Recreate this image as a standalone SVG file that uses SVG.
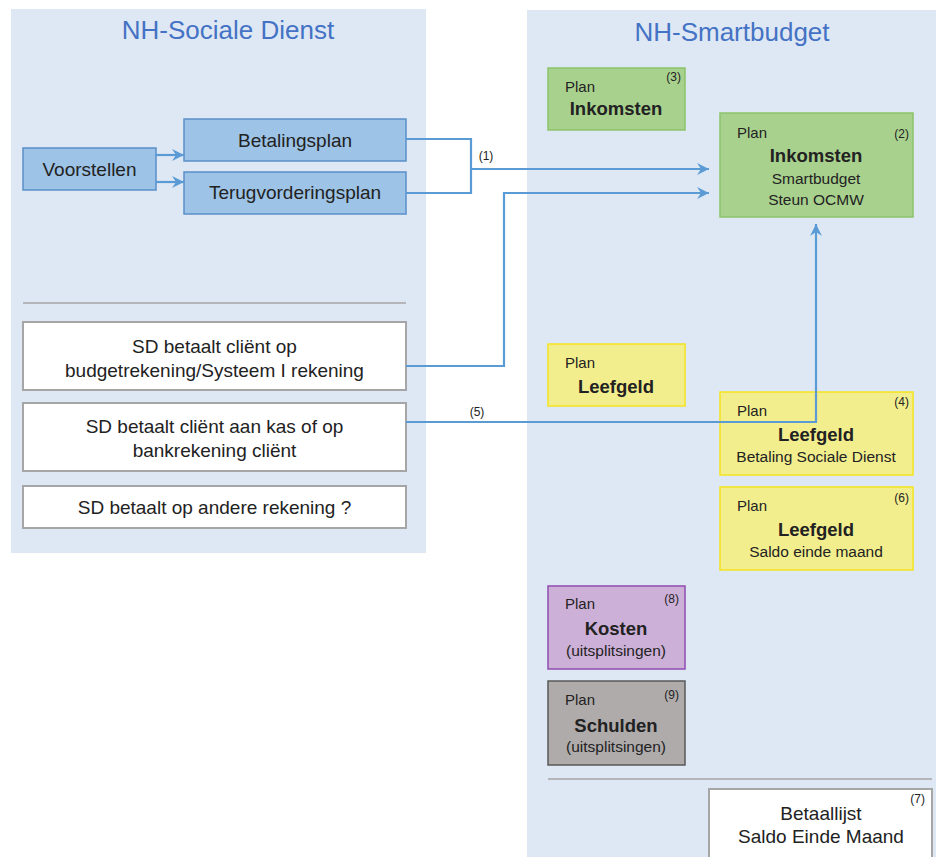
<svg xmlns="http://www.w3.org/2000/svg" width="936" height="857" viewBox="0 0 936 857">
<style>
text{font-family:"Liberation Sans",Arial,sans-serif;fill:#222222}
.title{font-size:26px;fill:#4472C4;text-anchor:middle}
.m{font-size:19px;text-anchor:middle}
.plan{font-size:15px}
.b{font-size:18.5px;font-weight:bold;text-anchor:middle}
.s{font-size:15.5px;text-anchor:middle}
.n{font-size:12px;text-anchor:end}
.lbl{font-size:12px;text-anchor:middle}
.panel{fill:#DEE8F4}
.blue{fill:#9DC3E6;stroke:#5B8FC7;stroke-width:1.5}
.white{fill:#FFFFFF;stroke:#A6A6A6;stroke-width:2}
.green{fill:#A9D18E;stroke:#8CC26A;stroke-width:1.5}
.yellow{fill:#F2EE8E;stroke:#F5E41C;stroke-width:1.5}
.purple{fill:#CDB0D7;stroke:#8E4CB0;stroke-width:1.5}
.grey{fill:#AFABAB;stroke:#595959;stroke-width:1.5}
.sep{stroke:#A6A6A6;stroke-width:1.5;fill:none}
.c{fill:none;stroke:#5B9BD5;stroke-width:2.2}
</style>
<defs>
<marker id="ah" viewBox="0 0 12 12" refX="12" refY="6" markerWidth="12" markerHeight="12" markerUnits="userSpaceOnUse" orient="auto">
<path d="M0,0 L12,6 L0,12 L4,6 z" fill="#5B9BD5"/>
</marker>
</defs>
<g id="panel-sociale-dienst">
<rect class="panel" x="11" y="9" width="415" height="544"/>
<text class="title" x="228" y="39">NH-Sociale Dienst</text>
<line class="sep" x1="23" y1="303" x2="406" y2="303"/>
</g>
<g id="panel-smartbudget">
<rect class="panel" x="527" y="10" width="409" height="847"/>
<text class="title" x="732" y="41">NH-Smartbudget</text>
<line class="sep" x1="548" y1="779" x2="932" y2="779"/>
</g>
<g id="voorstellen">
<rect class="blue" x="23" y="148" width="133" height="42"/>
<text class="m" x="89.5" y="176">Voorstellen</text>
</g>
<g id="betalingsplan">
<rect class="blue" x="184" y="119" width="222" height="42"/>
<text class="m" x="295" y="147">Betalingsplan</text>
</g>
<g id="terugvorderingsplan">
<rect class="blue" x="184" y="172" width="222" height="42"/>
<text class="m" x="295" y="199">Terugvorderingsplan</text>
</g>
<g id="sd-budgetrekening">
<rect class="white" x="23" y="322" width="383" height="68"/>
<text class="m" x="214.5" y="353">SD betaalt cliënt op</text>
<text class="m" x="214.5" y="377">budgetrekening/Systeem I rekening</text>
</g>
<g id="sd-kas">
<rect class="white" x="23" y="403" width="383" height="68"/>
<text class="m" x="214.5" y="433">SD betaalt cliënt aan kas of op</text>
<text class="m" x="214.5" y="457">bankrekening cliënt</text>
</g>
<g id="sd-andere">
<rect class="white" x="23" y="486" width="383" height="42"/>
<text class="m" x="214.5" y="514">SD betaalt op andere rekening ?</text>
</g>
<g id="plan-inkomsten-3">
<rect class="green" x="548" y="68" width="137" height="62"/>
<text class="plan" x="565" y="92">Plan</text>
<text class="n" x="681" y="81">(3)</text>
<text class="b" x="616" y="115">Inkomsten</text>
</g>
<g id="inkomsten-2">
<rect class="green" x="720" y="113" width="193" height="104"/>
<text class="plan" x="737" y="138">Plan</text>
<text class="n" x="909" y="138">(2)</text>
<text class="b" x="816" y="162">Inkomsten</text>
<text class="s" x="816" y="184">Smartbudget</text>
<text class="s" x="816" y="205">Steun OCMW</text>
</g>
<g id="plan-leefgeld">
<rect class="yellow" x="548" y="344" width="137" height="62"/>
<text class="plan" x="565" y="368">Plan</text>
<text class="b" x="616" y="393">Leefgeld</text>
</g>
<g id="leefgeld-4">
<rect class="yellow" x="720" y="392" width="193" height="83"/>
<text class="plan" x="737" y="416">Plan</text>
<text class="n" x="909" y="406">(4)</text>
<text class="b" x="816" y="441">Leefgeld</text>
<text class="s" x="816" y="462">Betaling Sociale Dienst</text>
</g>
<g id="leefgeld-6">
<rect class="yellow" x="720" y="487" width="193" height="83"/>
<text class="plan" x="737" y="511">Plan</text>
<text class="n" x="909" y="502">(6)</text>
<text class="b" x="816" y="536">Leefgeld</text>
<text class="s" x="816" y="557">Saldo einde maand</text>
</g>
<g id="kosten-8">
<rect class="purple" x="548" y="586" width="137" height="83"/>
<text class="plan" x="565" y="609">Plan</text>
<text class="n" x="679" y="603">(8)</text>
<text class="b" x="616" y="635">Kosten</text>
<text class="s" x="616" y="656">(uitsplitsingen)</text>
</g>
<g id="schulden-9">
<rect class="grey" x="548" y="681" width="137" height="84"/>
<text class="plan" x="565" y="705">Plan</text>
<text class="n" x="679" y="699">(9)</text>
<text class="b" x="616" y="732">Schulden</text>
<text class="s" x="616" y="752">(uitsplitsingen)</text>
</g>
<g id="betaallijst-7">
<rect class="white" x="709" y="789" width="223" height="80"/>
<text class="n" x="925" y="803">(7)</text>
<text class="m" x="821" y="820">Betaallijst</text>
<text class="m" x="821" y="843">Saldo Einde Maand</text>
</g>
<g id="connectors">
<path class="c" d="M156,155 H184" marker-end="url(#ah)"/>
<path class="c" d="M156,182 H184" marker-end="url(#ah)"/>
<path class="c" d="M406,139 H471 V193 H406"/>
<path class="c" d="M471,169 H709" marker-end="url(#ah)"/>
<path class="c" d="M406,366 H504 V193 H709" marker-end="url(#ah)"/>
<path class="c" d="M406,422 H816 V224" marker-end="url(#ah)"/>
<text class="lbl" x="486" y="160">(1)</text>
<text class="lbl" x="477" y="416">(5)</text>
</g>
</svg>
